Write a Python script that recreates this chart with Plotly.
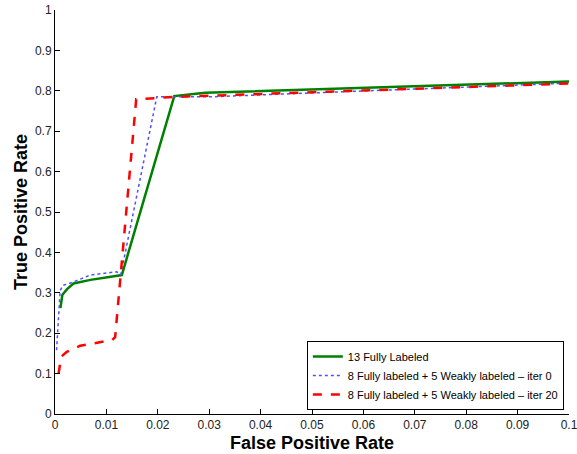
import plotly.graph_objects as go

# 13 Fully Labeled
fpr_full = [0.00105, 0.00144, 0.00235, 0.0036, 0.0069, 0.013, 0.0232, 0.0292, 0.1]
tpr_full = [0.262, 0.295, 0.309, 0.323, 0.332, 0.344, 0.787, 0.795, 0.823]

# 8 Fully labeled + 5 Weakly labeled - iter 0
fpr_iter0 = [0.0003, 0.0007, 0.001, 0.0015, 0.0036, 0.0069, 0.012, 0.0128, 0.0198, 0.03, 0.1]
tpr_iter0 = [0.158, 0.257, 0.305, 0.318, 0.327, 0.344, 0.352, 0.345, 0.785, 0.785, 0.819]

# 8 Fully labeled + 5 Weakly labeled - iter 20
fpr_iter20 = [0.0007, 0.0012, 0.0023, 0.0049, 0.0111, 0.0117, 0.0158, 0.0234, 0.1]
tpr_iter20 = [0.100, 0.142, 0.154, 0.169, 0.183, 0.19, 0.779, 0.785, 0.818]

names = ["13 Fully Labeled",
         "8 Fully labeled + 5 Weakly labeled \u2013 iter 0",
         "8 Fully labeled + 5 Weakly labeled \u2013 iter 20"]

x_ticks = [0, 0.01, 0.02, 0.03, 0.04, 0.05, 0.06, 0.07, 0.08, 0.09, 0.1]
x_tick_text = ["0", "0.01", "0.02", "0.03", "0.04", "0.05", "0.06", "0.07", "0.08", "0.09", "0.1"]
y_ticks = [0, 0.1, 0.2, 0.3, 0.4, 0.5, 0.6, 0.7, 0.8, 0.9, 1]
y_tick_text = ["0", "0.1", "0.2", "0.3", "0.4", "0.5", "0.6", "0.7", "0.8", "0.9", "1"]

fig = go.Figure()
fig.add_trace(go.Scatter(x=fpr_full, y=tpr_full, mode="lines", name=names[0],
                         line=dict(color="rgb(0,128,0)", width=2.5)))
fig.add_trace(go.Scatter(x=fpr_iter0, y=tpr_iter0, mode="lines", name=names[1],
                         line=dict(color="rgb(80,80,255)", width=1.5, dash="dot")))
fig.add_trace(go.Scatter(x=fpr_iter20, y=tpr_iter20, mode="lines", name=names[2],
                         line=dict(color="rgb(255,0,0)", width=2.5, dash="dash")))

title_font = dict(size=18, color="black", family="Liberation Sans, Arial, sans-serif", weight="bold")

fig.update_layout(
    width=577, height=454,
    margin=dict(l=55, r=8, t=10, b=40, autoexpand=False),
    plot_bgcolor="white", paper_bgcolor="white",
    font=dict(family="Liberation Sans, Arial, sans-serif", size=12, color="#222"),
    xaxis=dict(range=[0, 0.1000001], tickvals=x_ticks, ticktext=x_tick_text,
               ticks="inside", ticklen=5, tickcolor="black", showgrid=False,
               zeroline=False, showline=True, linecolor="black", linewidth=1,
               automargin=False, ticklabeloverflow="allow",
               title=dict(text="False Positive Rate", standoff=4, font=title_font)),
    yaxis=dict(range=[0, 1.0000001], tickvals=y_ticks, ticktext=y_tick_text,
               ticks="inside", ticklen=5, tickcolor="black", showgrid=False,
               zeroline=False, showline=True, linecolor="black", linewidth=1,
               automargin=False, ticklabeloverflow="allow",
               title=dict(text="True Positive Rate", standoff=2, font=title_font)),
    legend=dict(x=0.99, y=0.01, xanchor="right", yanchor="bottom",
                bordercolor="black", borderwidth=1, bgcolor="white",
                font=dict(size=11, color="black"), tracegroupgap=0,
                itemwidth=30),
    showlegend=True,
)

fig.write_html("out.html")
